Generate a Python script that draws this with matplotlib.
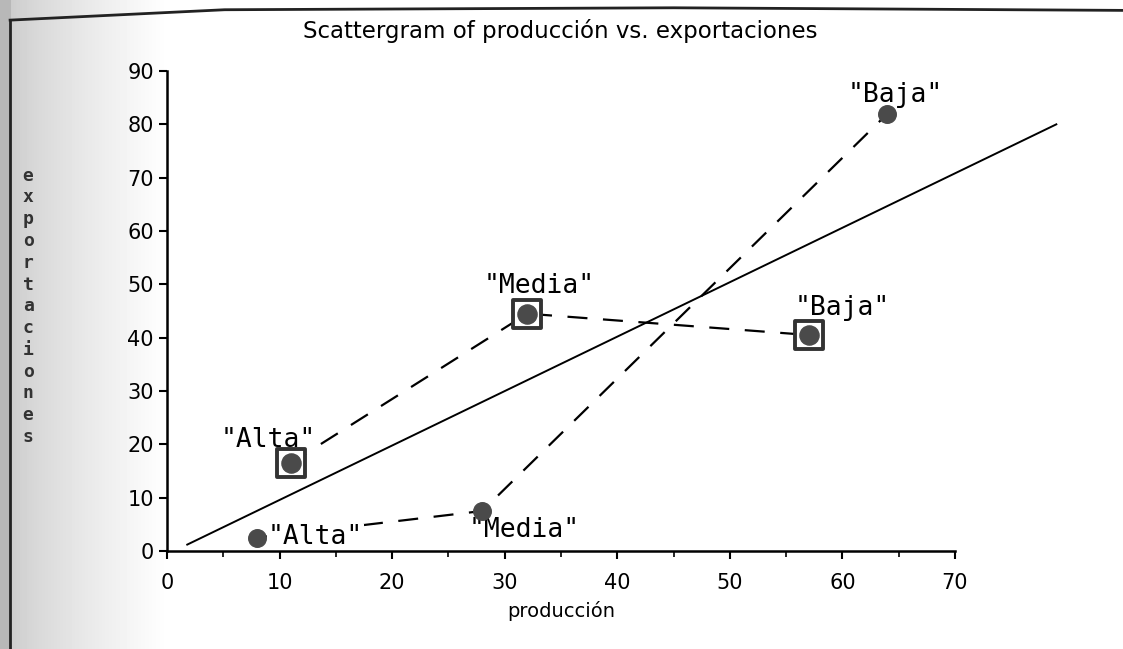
import matplotlib
matplotlib.use("Agg")
import matplotlib.pyplot as plt
import numpy as np

# Data
circ_x = [8, 28, 64]
circ_y = [2.5, 7.5, 82]
circ_lab = ['"Alta"', '"Media"', '"Baja"']
sq_x = [11, 32, 57]
sq_y = [16.5, 44.5, 40.5]
sq_lab = ['"Alta"', '"Media"', '"Baja"']
fit_x = [1.8, 79]
fit_y = [1.2, 80]
xticks = [0, 10, 20, 30, 40, 50, 60, 70]
yticks = [0, 10, 20, 30, 40, 50, 60, 70, 80, 90]

fig = plt.figure(figsize=(11.23, 6.49), dpi=100)

# scanned-paper background gradient on the left
bg = fig.add_axes([0, 0, 1, 1], zorder=-10)
grad = np.linspace(0, 1, 1123)
vals = 0.80 + 0.20 * np.clip((grad - 0.009) / 0.14, 0, 1) ** 0.8
vals[grad < 0.009] = 0.72
bg.imshow(np.tile(vals, (10, 1)), cmap="gray", vmin=0, vmax=1, aspect="auto",
          extent=[0, 1, 0, 1])
bg.plot([0.009, 0.009], [0, 0.969], color="#222222", lw=2)
bg.plot([0.009, 0.2, 0.6, 1.0], [0.969, 0.985, 0.988, 0.984],
        color="#222222", lw=2)
bg.set_xlim(0, 1)
bg.set_ylim(0, 1)
bg.axis("off")

ax = fig.add_axes([0.1487, 0.151, 0.7017, 0.7396])
ax.set_xlim(0, 70)
ax.set_ylim(0, 90)
ax.patch.set_alpha(0)
for s in ["top", "right"]:
    ax.spines[s].set_visible(False)
for s in ["left", "bottom"]:
    ax.spines[s].set_linewidth(1.8)
    ax.spines[s].set_zorder(8)
ax.set_xticks(xticks)
ax.set_yticks(yticks)
ax.set_xticks(np.arange(5, 70, 10), minor=True)
ax.tick_params(which="major", direction="out", length=6, width=1.5,
               labelsize=15)
ax.tick_params(axis="x", which="major", pad=10)
ax.tick_params(which="minor", direction="out", length=4, width=1.2)

# regression line
ax.plot(fit_x, fit_y, color="black", lw=1.4, clip_on=False)

# dashed connections
ax.plot(circ_x, circ_y, color="black", lw=1.6, ls=(0, (9, 7)), clip_on=False)
ax.plot(sq_x, sq_y, color="black", lw=1.6, ls=(0, (9, 7)), clip_on=False)

# markers
ax.scatter(circ_x, circ_y, s=160, color="#4a4a4a", zorder=5, clip_on=False)
ax.scatter(sq_x, sq_y, s=400, marker="s", facecolor="white",
           edgecolor="#333333", linewidth=2.8, zorder=5, clip_on=False)
ax.scatter(sq_x, sq_y, s=190, marker="o", color="#4a4a4a", zorder=6,
           clip_on=False)

mono = "DejaVu Sans Mono"
fs = 19
box = dict(facecolor="white", edgecolor="none", pad=0.3)
# label centres (data units)
ax.text(13.2, 2.6, circ_lab[0], fontsize=fs, family=mono,
        ha="center", va="center", zorder=7, bbox=box)
ax.text(31.7, 3.9, circ_lab[1], fontsize=fs, family=mono,
        ha="center", va="center", zorder=4, bbox=box)
ax.text(64.7, 85.5, circ_lab[2], fontsize=fs, family=mono,
        ha="center", va="center", zorder=4, bbox=box)
ax.text(9.0, 20.8, sq_lab[0], fontsize=fs, family=mono,
        ha="center", va="center", zorder=4, bbox=box)
ax.text(33.1, 49.7, sq_lab[1], fontsize=fs, family=mono,
        ha="center", va="center", zorder=4, bbox=box)
ax.text(60.0, 45.6, sq_lab[2], fontsize=fs, family=mono,
        ha="center", va="center", zorder=4, bbox=box)

fig.text(0.499, 0.953, "Scattergram of producción vs. exportaciones",
         ha="center", va="center", fontsize=16.5)
fig.text(0.5, 0.058, "producción", ha="center", va="center", fontsize=14)
fig.text(0.025, 0.528, "\n".join("exportaciones"), ha="center",
         va="center", fontsize=13, family="DejaVu Sans Mono",
         linespacing=1.27, color="#333333", fontweight="bold")

fig.savefig("out.png", dpi=100)
